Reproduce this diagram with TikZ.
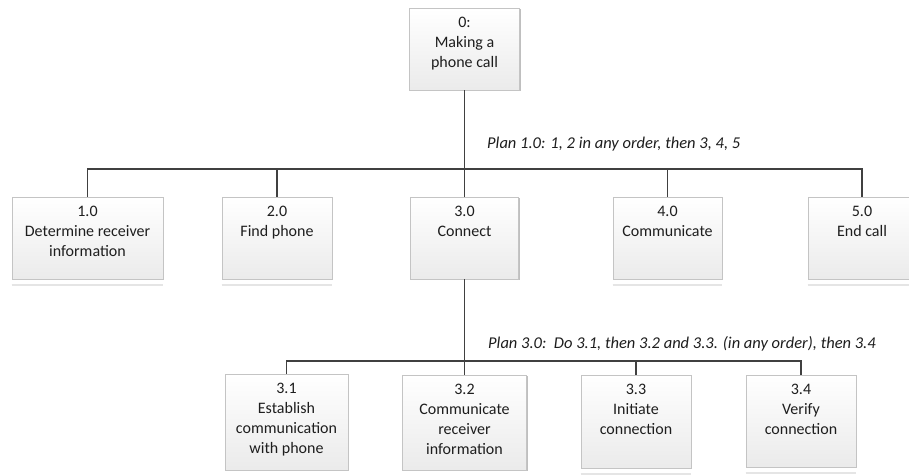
\documentclass[tikz,border=0pt]{standalone}
\usepackage{fontspec}
\setmainfont{Carlito}
\usetikzlibrary{shadows}
\definecolor{linegray}{HTML}{404040}
\definecolor{boxedge}{HTML}{C4C4C4}
\definecolor{txtgray}{HTML}{1E1E1E}
\tikzset{
  taskbox/.style={draw=boxedge, line width=0.8pt, top color=white, bottom color=black!8,
    inner sep=0pt, drop shadow={shadow xshift=1pt, shadow yshift=-1pt, opacity=0.25, fill=black}},
  tasktext/.style={anchor=north, align=center, inner sep=0pt, text=txtgray,
    font=\fontsize{16}{20}\selectfont},
  plantext/.style={anchor=west, inner sep=0pt, text=txtgray,
    font=\fontsize{16.5}{19}\selectfont\itshape},
  link/.style={draw=linegray, line width=1.4pt},
  glint/.style={draw=black!10, line width=2pt},
}
\begin{document}
\begin{tikzpicture}[x=1pt, y=-1pt]
  \useasboundingbox (0,0) rectangle (909,475);
  \fill[white] (0,0) rectangle (909,475);

  % root task
  \node[taskbox, minimum width=110pt, minimum height=82pt] (t0) at (464.5,49) {};
  \node[tasktext] (t0l) at ([yshift=-9pt]t0.north) {0:\\Making a\\phone call};

  % first level tasks
  \node[taskbox, minimum width=151pt, minimum height=82pt] (t1) at (87.5,238) {};
  \node[taskbox, minimum width=110pt, minimum height=82pt] (t2) at (277,238) {};
  \node[taskbox, minimum width=108pt, minimum height=82pt] (t3) at (464.5,238) {};
  \node[taskbox, minimum width=109pt, minimum height=82pt] (t4) at (667.5,238) {};
  \node[taskbox, minimum width=108pt, minimum height=82pt] (t5) at (862,238) {};
  \node[tasktext] (t1l) at ([yshift=-9pt]t1.north) {1.0\\Determine receiver\\information};
  \node[tasktext] (t2l) at ([yshift=-9pt]t2.north) {2.0\\Find phone};
  \node[tasktext] (t3l) at ([yshift=-9pt]t3.north) {3.0\\Connect};
  \node[tasktext] (t4l) at ([yshift=-9pt]t4.north) {4.0\\Communicate};
  \node[tasktext] (t5l) at ([yshift=-9pt]t5.north) {5.0\\End call};

  % subtasks of 3.0
  \node[taskbox, minimum width=123pt, minimum height=96pt] (s1) at (286.5,422) {};
  \node[taskbox, minimum width=124pt, minimum height=95pt] (s2) at (464.5,422.5) {};
  \node[taskbox, minimum width=110pt, minimum height=93pt] (s3) at (636,421.5) {};
  \node[taskbox, minimum width=110pt, minimum height=92pt] (s4) at (801,421) {};
  \node[tasktext] (s1l) at ([yshift=-9pt]s1.north) {3.1\\Establish\\communication\\with phone};
  \node[tasktext] (s2l) at ([yshift=-9pt]s2.north) {3.2\\Communicate\\receiver\\information};
  \node[tasktext] (s3l) at ([yshift=-9pt]s3.north) {3.3\\Initiate\\connection};
  \node[tasktext] (s4l) at ([yshift=-9pt]s4.north) {3.4\\Verify\\connection};

  % faint reflections under the boxes
  \foreach \b in {t1,t2,t4,t5,s3,s4}
    \draw[glint] ([yshift=-6pt]\b.south west) -- ([yshift=-6pt]\b.south east);

  % plans
  \node[plantext] (p1) at (487,144) {Plan 1.0: 1, 2 in any order, then 3, 4, 5};
  \node[plantext] (p3) at (488,344) {Plan 3.0:\ \ Do 3.1, then 3.2 and 3.3. (in any order), then 3.4};

  % hierarchy connectors
  \coordinate (bar1) at (0,169);
  \coordinate (bar2) at (0,361);
  \foreach \c in {t1,t2,t3,t4,t5}
    \draw[link] (t0.south) -- (t0.south |- bar1) -| (\c.north);
  \foreach \c in {s1,s2,s3,s4}
    \draw[link] (t3.south) -- (t3.south |- bar2) -| (\c.north);
\end{tikzpicture}
\end{document}
